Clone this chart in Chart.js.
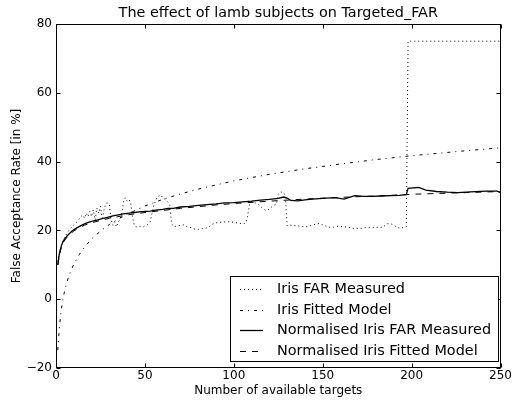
<!DOCTYPE html>
<html>
<head>
<meta charset="utf-8">
<script src="https://cdn.jsdelivr.net/npm/chart.js@4/dist/chart.umd.min.js"></script>
<style>
  html, body { margin: 0; padding: 0; background: #fff; }
  #wrap { width: 513px; height: 400px; }
</style>
</head>
<body>
<div id="wrap"><canvas id="c" width="513" height="400"></canvas></div>
<script>
// --- data ---
var TITLE = 'The effect of lamb subjects on Targeted_FAR';
var X_LABEL = 'Number of available targets';
var Y_LABEL = 'False Acceptance Rate [in %]';
var X_TICKS = [0, 50, 100, 150, 200, 250];
var Y_TICKS = [-20, 0, 20, 40, 60, 80];

// Iris FAR Measured (dotted)
var farX = [1, 2, 3, 4, 5, 6, 7, 8, 10, 12, 14, 15, 16, 17, 18, 19, 20, 21, 22, 23, 24, 25, 26, 27, 28, 29, 30,
  31, 32, 33, 34, 35, 36, 37, 38, 39, 40, 41, 42, 43, 44, 45, 47, 49, 51, 53, 54, 55, 56, 57, 58, 59, 60, 62, 64,
  65, 66, 68, 70, 72, 74, 76, 78, 80, 82, 84, 86, 88, 90, 92, 94, 96, 98, 100, 102, 104, 106, 107, 108, 109, 110,
  112, 114, 116, 118, 119, 120, 122, 124, 125, 126, 128, 129, 130, 132, 134, 136, 138, 140, 142, 144, 146, 148,
  150, 152, 154, 156, 158, 160, 162, 164, 166, 168, 170, 172, 174, 176, 178, 180, 182, 184, 186, 188, 190, 192,
  194, 196, 197, 198, 250];
var farY = [11, 13.5, 15.5, 17, 18, 19, 19.8, 20.5, 21.6, 22.6, 24, 24.5, 23.5, 25, 24, 25.5, 24, 26, 23, 26.5, 25, 27, 23, 26, 27.8, 28, 27.5,
  23, 21.5, 22.5, 21, 22.5, 23, 25, 28.5, 29.5, 28.5, 29, 28, 24, 21.5, 21, 21.2, 21, 21.5, 22.5, 25, 27.4, 28.5, 29.8, 30, 30.3, 29.5, 28.8, 27.4,
  22, 21.1, 21.3, 21.5, 21.6, 21, 20.8, 20.4, 20.3, 20.5, 20.6, 21, 21.8, 22.2, 22.3, 22.5, 22.4, 22.6, 22.3, 22.2, 22, 22, 22.3, 25, 28, 28.3,
  28, 27.5, 26.5, 25.8, 26, 26.2, 27.2, 27.6, 30.5, 31.2, 31, 30, 21.3, 21.5, 21.4, 21.3, 21.2, 21, 21.2, 21.5, 21.8, 22,
  21.6, 21.2, 20.9, 20.9, 21.2, 21.1, 21, 21, 20.7, 20.5, 20.6, 20.6, 20.8, 20.8, 20.8, 20.9, 20.8, 21, 21.9, 22, 21.5, 20.8,
  20.6, 21, 21.1, 75, 75];

// Iris Fitted Model (dash-dot)
var fitX = [1, 2, 3, 4, 5, 6, 8, 10, 13, 16, 20, 25, 30, 35, 40, 50, 60, 70, 80, 90, 100, 120, 140, 160, 180, 200, 225, 250];
var fitY = [-14.8, -7.5, -3, 0.3, 2.8, 4.8, 7.8, 10.2, 12.9, 15.1, 17.5, 19.8, 21.7, 23.3, 24.7, 27.1, 29, 30.6, 32, 33.2, 34.4, 36.3, 37.9, 39.3, 40.6, 41.7, 42.9, 44];

// Normalised Iris FAR Measured (solid)
var normX = [1, 2, 3, 4, 5, 7, 9, 11, 14, 17, 20, 23, 26, 29, 32, 35, 38, 41, 44, 47, 50, 53, 56, 60, 63, 66, 70, 75, 80, 85, 90, 95, 100,
  105, 110, 115, 120, 125, 128, 130, 132, 136, 140, 144, 150, 157, 162, 168, 173, 178, 183, 188, 193, 197, 198, 204, 208, 214, 220, 226,
  233, 242, 248, 250];
var normY = [10, 13.5, 15.5, 16.8, 17.6, 18.8, 19.8, 20.5, 21.4, 22.1, 22.6, 23, 23.4, 23.8, 24.2, 24.5, 24.8, 25, 25.2, 25.4, 25.5, 25.6, 25.9, 26.1, 26.4, 26.4, 26.8, 27, 27.3, 27.5, 27.7, 28, 28.1,
  28.3, 28.5, 28.8, 29, 29.3, 29.7, 29.4, 28.7, 28.6, 28.9, 29.1, 29.3, 29.5, 29.1, 30.1, 29.9, 29.9, 30, 30.1, 30.2, 30.4, 32.2, 32.5, 31.7, 31.3, 31.1, 31,
  31.2, 31.4, 31.4, 31];

// Normalised Iris Fitted Model (dashed)
var nfitX = [1, 2, 3, 4, 5, 6, 8, 10, 13, 16, 20, 25, 30, 40, 50, 60, 70, 80, 90, 100, 120, 140, 160, 180, 200, 225, 250];
var nfitY = [10, 13, 15, 16.3, 17.2, 17.9, 19, 19.8, 20.8, 21.5, 22.2, 22.9, 23.5, 24.5, 25.2, 25.8, 26.4, 26.9, 27.4, 27.8, 28.5, 29.1, 29.6, 30, 30.5, 30.9, 31.3];

var SERIES = [
  { label: 'Iris FAR Measured', xs: farX, ys: farY, dash: [1, 3], width: 1 },
  { label: 'Iris Fitted Model', xs: fitX, ys: fitY, dash: [3, 5, 1, 5], width: 1 },
  { label: 'Normalised Iris FAR Measured', xs: normX, ys: normY, dash: [], width: 1.3 },
  { label: 'Normalised Iris Fitted Model', xs: nfitX, ys: nfitY, dash: [6, 6], width: 1 }
];

function pts(xs, ys) {
  return xs.map(function (x, i) { return { x: x, y: ys[i] }; });
}

var FONT = 'DejaVu Sans';

// frame, inward ticks on all four sides, and the boxed legend
var frameTicks = {
  id: 'frameTicks',
  afterDatasetsDraw: function (chart) {
    var a = chart.chartArea, ctx = chart.ctx;
    var xs = chart.scales.x, ys = chart.scales.y;
    var L = Math.round(a.left) + 0.5, R = Math.round(a.right) - 0.5;
    var T = Math.round(a.top) + 0.5, B = Math.round(a.bottom) - 0.5;
    ctx.save();
    ctx.strokeStyle = '#000';
    ctx.lineWidth = 1;
    ctx.setLineDash([]);
    ctx.strokeRect(L, T, R - L, B - T);
    ctx.beginPath();
    X_TICKS.forEach(function (v) {
      var px = Math.round(xs.getPixelForValue(v)) + 0.5;
      ctx.moveTo(px, B); ctx.lineTo(px, B - 4);
      ctx.moveTo(px, T); ctx.lineTo(px, T + 4);
    });
    Y_TICKS.forEach(function (v) {
      var py = Math.round(ys.getPixelForValue(v)) + 0.5;
      ctx.moveTo(L, py); ctx.lineTo(L + 4, py);
      ctx.moveTo(R, py); ctx.lineTo(R - 4, py);
    });
    ctx.stroke();

    // legend box, lower right
    var bx = 230.5, by = 276.5, bw = 268, bh = 85;
    ctx.fillStyle = '#fff';
    ctx.fillRect(bx, by, bw, bh);
    ctx.strokeRect(bx, by, bw, bh);
    ctx.font = '14.4px "' + FONT + '"';
    ctx.textBaseline = 'middle';
    ctx.textAlign = 'left';
    chart.data.datasets.forEach(function (ds, i) {
      var cy = Math.round(289 + i * 20.6) + 0.5;
      ctx.beginPath();
      ctx.lineWidth = ds.borderWidth;
      ctx.setLineDash(ds.borderDash);
      ctx.moveTo(240, cy); ctx.lineTo(263, cy);
      ctx.stroke();
      ctx.fillStyle = '#000';
      ctx.fillText(ds.label, 277, cy);
    });
    ctx.restore();
  }
};

var chart = new Chart(document.getElementById('c'), {
  type: 'line',
  data: {
    datasets: SERIES.map(function (s) {
      return {
        label: s.label,
        data: pts(s.xs, s.ys),
        borderColor: '#000',
        borderWidth: s.width,
        borderDash: s.dash,
        pointRadius: 0,
        tension: 0,
        fill: false
      };
    })
  },
  options: {
    responsive: false,
    animation: false,
    devicePixelRatio: 1,
    layout: { padding: { left: 0, right: 12, top: 0, bottom: 0 } },
    plugins: {
      legend: { display: false },
      tooltip: { enabled: false },
      title: {
        display: true,
        text: TITLE,
        fullSize: false,
        color: '#000',
        font: { family: FONT, size: 14.4, weight: 'normal' },
        padding: { top: 4.9, bottom: 1.8 }
      }
    },
    scales: {
      x: {
        type: 'linear',
        min: 0, max: 250,
        afterBuildTicks: function (s) { s.ticks = X_TICKS.map(function (v) { return { value: v }; }); },
        afterFit: function (s) { s.height = 32; },
        grid: { display: false, drawTicks: false },
        border: { display: false },
        ticks: { color: '#000', font: { family: FONT, size: 12 }, padding: 1, maxRotation: 0 },
        title: { display: true, text: X_LABEL, color: '#000', font: { family: FONT, size: 12 }, padding: { top: 0, bottom: 2 } }
      },
      y: {
        type: 'linear',
        min: -20, max: 80,
        afterBuildTicks: function (s) { s.ticks = Y_TICKS.map(function (v) { return { value: v }; }); },
        afterFit: function (s) { s.width = 56; },
        grid: { display: false, drawTicks: false },
        border: { display: false },
        ticks: {
          color: '#000', font: { family: FONT, size: 12 }, padding: 4,
          callback: function (v) { return v < 0 ? '\u2212' + Math.abs(v) : '' + v; }
        },
        title: { display: true, text: Y_LABEL, color: '#000', font: { family: FONT, size: 12 }, padding: { top: 10, bottom: 0 } }
      }
    }
  },
  plugins: [frameTicks]
});
</script>
</body>
</html>
